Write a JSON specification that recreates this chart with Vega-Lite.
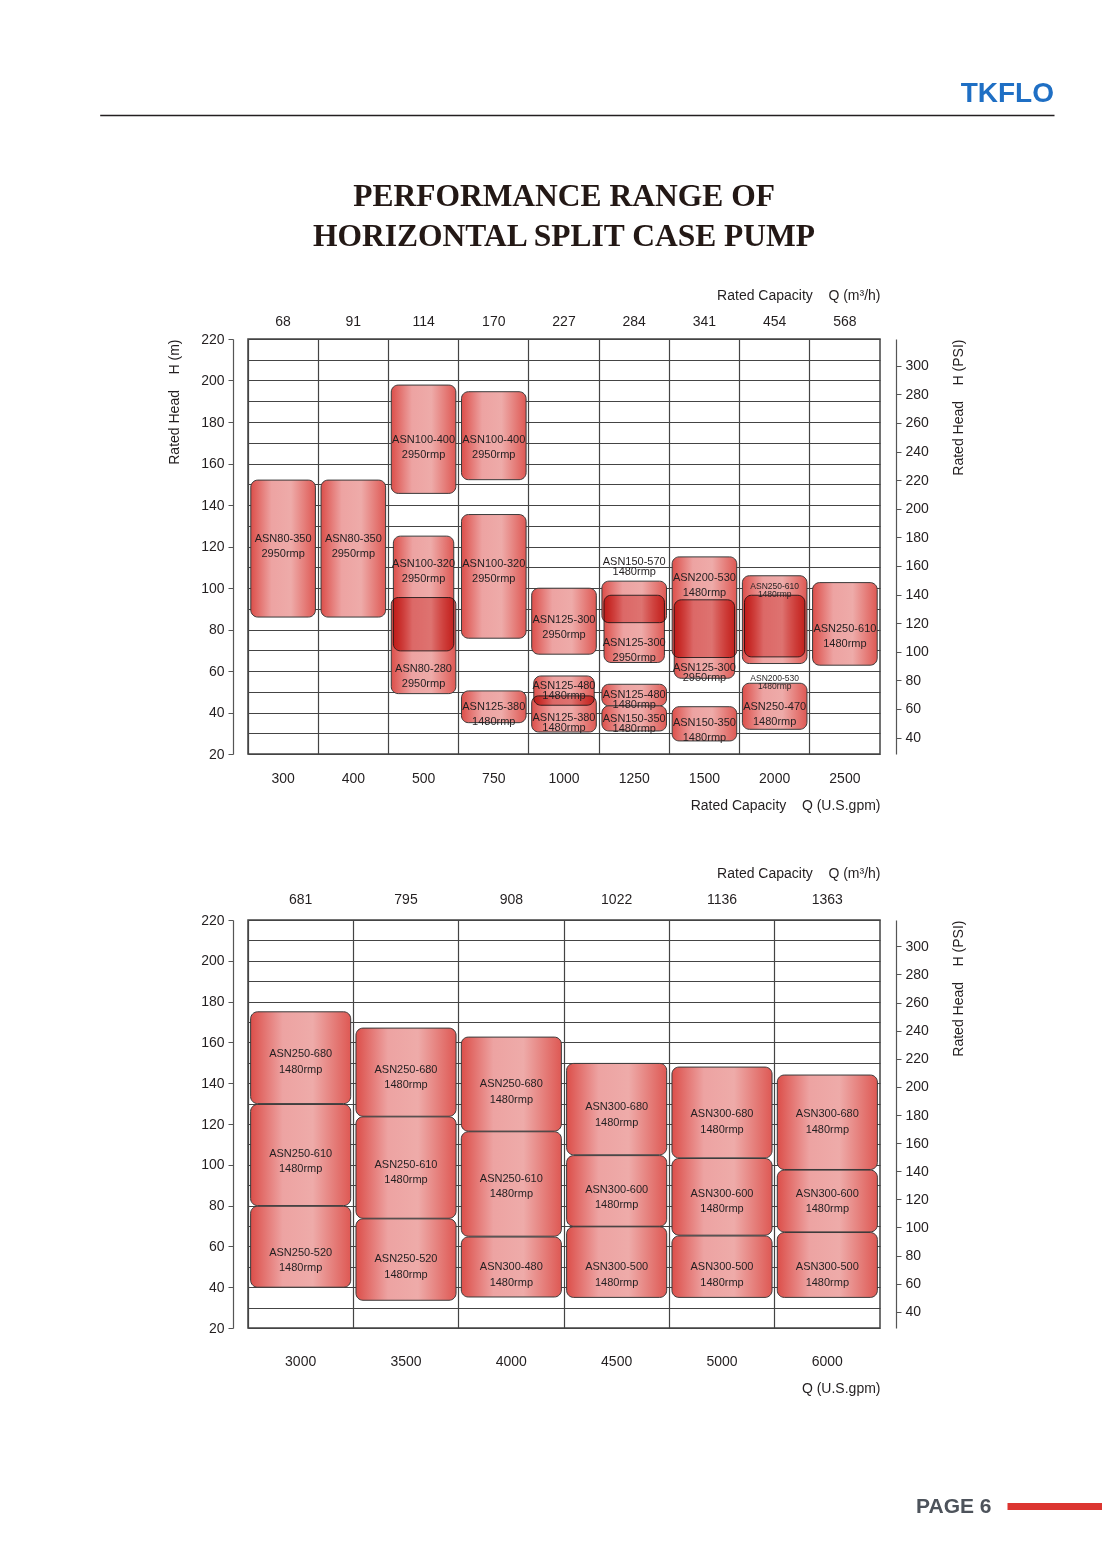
{
  "$schema": "https://vega.github.io/schema/vega-lite/v6.json",
  "background": "white",
  "padding": {"left": 166, "top": 80, "right": 0, "bottom": 0},
  "config": {
    "font": "Liberation Sans",
    "axis": {"labelFont": "Liberation Sans", "titleFont": "Liberation Sans"},
    "text": {"font": "Liberation Sans"}
  },
  "datasets": {
    "top": [
      {"gpm": 300, "model": "ASN80-350", "speed": "2950rmp", "lo": 86, "hi": 152, "ly": 123.7},
      {"gpm": 400, "model": "ASN80-350", "speed": "2950rmp", "lo": 86, "hi": 152, "ly": 123.7},
      {"gpm": 500, "model": "ASN100-400", "speed": "2950rmp", "lo": 145.6, "hi": 197.8, "ly": 171.2},
      {"gpm": 500, "model": "ASN100-320", "speed": "2950rmp", "lo": 69.7, "hi": 125, "ly": 111.7},
      {"gpm": 500, "model": "ASN80-280", "speed": "2950rmp", "lo": 49.1, "hi": 95.4, "ly": 61},
      {"gpm": 750, "model": "ASN100-400", "speed": "2950rmp", "lo": 152.2, "hi": 194.6, "ly": 171.2},
      {"gpm": 750, "model": "ASN100-320", "speed": "2950rmp", "lo": 75.8, "hi": 135.4, "ly": 111.7},
      {"gpm": 750, "model": "ASN125-380", "speed": "1480rmp", "lo": 35.1, "hi": 50.4, "ly": 42.5},
      {"gpm": 1000, "model": "ASN125-300", "speed": "2950rmp", "lo": 68.1, "hi": 99.9, "ly": 84.8},
      {"gpm": 1000, "model": "ASN125-480", "speed": "1480rmp", "lo": 43.5, "hi": 57.6, "ly": 52.8},
      {"gpm": 1000, "model": "ASN125-380", "speed": "1480rmp", "lo": 30.6, "hi": 48, "ly": 37.4},
      {"gpm": 1250, "model": "ASN150-570", "speed": "1480rmp", "lo": 83.3, "hi": 103.3, "ly": 112.5},
      {"gpm": 1250, "model": "ASN125-300", "speed": "2950rmp", "lo": 64.1, "hi": 96.5, "ly": 73.7},
      {"gpm": 1250, "model": "ASN125-480", "speed": "1480rmp", "lo": 43.2, "hi": 53.6, "ly": 48.6},
      {"gpm": 1250, "model": "ASN150-350", "speed": "1480rmp", "lo": 31.1, "hi": 43.2, "ly": 37.1},
      {"gpm": 1500, "model": "ASN200-530", "speed": "1480rmp", "lo": 66.5, "hi": 115, "ly": 104.7},
      {"gpm": 1500, "model": "ASN125-300", "speed": "2950rmp", "lo": 56.5, "hi": 94.3, "ly": 61.6},
      {"gpm": 1500, "model": "ASN150-350", "speed": "1480rmp", "lo": 26.3, "hi": 42.8, "ly": 34.8},
      {"gpm": 2000, "model": "ASN250-610", "speed": "1480rmp", "lo": 63.6, "hi": 105.9, "ly": 101.1},
      {"gpm": 2000, "model": "ASN200-530", "speed": "1480rmp", "lo": 66.8, "hi": 96.5, "ly": 56.4},
      {"gpm": 2000, "model": "ASN250-470", "speed": "1480rmp", "lo": 31.9, "hi": 54.1, "ly": 42.7},
      {"gpm": 2500, "model": "ASN250-610", "speed": "1480rmp", "lo": 62.8, "hi": 102.6, "ly": 80.2}
    ],
    "bottom": [
      {"gpm": 3000, "model": "ASN250-680", "speed": "1480rmp", "lo": 130, "hi": 175, "ly": 154.1},
      {"gpm": 3000, "model": "ASN250-610", "speed": "1480rmp", "lo": 80, "hi": 129.6, "ly": 105.3},
      {"gpm": 3000, "model": "ASN250-520", "speed": "1480rmp", "lo": 40, "hi": 79.7, "ly": 56.9},
      {"gpm": 3500, "model": "ASN250-680", "speed": "1480rmp", "lo": 123.8, "hi": 167, "ly": 146.5},
      {"gpm": 3500, "model": "ASN250-610", "speed": "1480rmp", "lo": 73.8, "hi": 123.5, "ly": 100.1},
      {"gpm": 3500, "model": "ASN250-520", "speed": "1480rmp", "lo": 33.6, "hi": 73.5, "ly": 53.6},
      {"gpm": 4000, "model": "ASN250-680", "speed": "1480rmp", "lo": 116.5, "hi": 162.6, "ly": 139.5},
      {"gpm": 4000, "model": "ASN250-610", "speed": "1480rmp", "lo": 65, "hi": 116.2, "ly": 93.1},
      {"gpm": 4000, "model": "ASN300-480", "speed": "1480rmp", "lo": 35.2, "hi": 64.6, "ly": 49.8},
      {"gpm": 4500, "model": "ASN300-680", "speed": "1480rmp", "lo": 104.9, "hi": 149.7, "ly": 128.1},
      {"gpm": 4500, "model": "ASN300-600", "speed": "1480rmp", "lo": 69.9, "hi": 104.5, "ly": 87.7},
      {"gpm": 4500, "model": "ASN300-500", "speed": "1480rmp", "lo": 35, "hi": 69.6, "ly": 49.8},
      {"gpm": 5000, "model": "ASN300-680", "speed": "1480rmp", "lo": 103.4, "hi": 147.9, "ly": 124.9},
      {"gpm": 5000, "model": "ASN300-600", "speed": "1480rmp", "lo": 65.5, "hi": 103.1, "ly": 85.9},
      {"gpm": 5000, "model": "ASN300-500", "speed": "1480rmp", "lo": 35, "hi": 65.1, "ly": 49.8},
      {"gpm": 6000, "model": "ASN300-680", "speed": "1480rmp", "lo": 97.7, "hi": 144, "ly": 124.9},
      {"gpm": 6000, "model": "ASN300-600", "speed": "1480rmp", "lo": 67.1, "hi": 97.4, "ly": 85.9},
      {"gpm": 6000, "model": "ASN300-500", "speed": "1480rmp", "lo": 35, "hi": 66.8, "ly": 49.8}
    ]
  },
  "spacing": 64,
  "vconcat": [
    {
      "width": 806,
      "height": 1,
      "view": {"stroke": null},
      "data": {"values": [{}]},
      "title": {"text": "TKFLO", "anchor": "end", "frame": "group", "font": "Liberation Sans", "fontSize": 28, "fontWeight": "bold", "color": "#1f6fc4", "offset": 6},
      "mark": {"type": "rule", "opacity": 0},
      "encoding": {
        "x": {"datum": 0.5, "type": "quantitative", "scale": {"domain": [0, 1], "range": [-148.3, 806]},
          "axis": {"orient": "bottom", "domain": true, "domainColor": "#231f20", "domainWidth": 1.3, "labels": false, "ticks": false, "grid": false, "title": null}}
      }
    },
    {
      "spacing": 99,
      "vconcat": [
        {
          "spacing": 52,
          "vconcat": [
            {
              "width": 632,
              "height": 415,
              "view": {"stroke": "#444444", "strokeWidth": 1.5},
              "title": {"text": ["PERFORMANCE RANGE OF", "HORIZONTAL SPLIT CASE PUMP"], "font": "Liberation Serif", "fontSize": 31.5, "fontWeight": "bold", "color": "#231815", "anchor": "middle", "frame": "group", "lineHeight": 40, "offset": 36},
              "data": {"name": "top"},
              "transform": [
                {"calculate": "datum.model + '\\n' + datum.speed", "as": "label"},
                {"calculate": "datum.gpm + '|' + datum.model", "as": "key"}
              ],
              "layer": [
                {
                  "transform": [{"filter": "indexof(['500|ASN100-320','1000|ASN125-480','1250|ASN125-300','1500|ASN125-300','2000|ASN200-530'], datum.key) >= 0"}],
                  "mark": {"type": "bar", "fill": "white", "cornerRadius": 7, "width": {"band": 0.86}},
                  "encoding": {
                    "x": {"field": "gpm", "type": "ordinal", "scale": {"paddingInner": 0, "paddingOuter": 0},
                      "axis": {"orient": "bottom", "zindex": 0, "domain": false, "ticks": false, "labelAngle": 0, "labelFontSize": 14, "labelColor": "#231f20", "labelPadding": 17, "grid": true, "bandPosition": 0, "gridColor": "#444444", "gridWidth": 1.2, "title": "Rated Capacity\u00a0\u00a0\u00a0 Q (U.S.gpm)", "titleAnchor": "end", "titleFontSize": 14, "titleFontWeight": "normal", "titleColor": "#231f20", "titlePadding": 13}},
                    "y": {"field": "lo", "type": "quantitative", "scale": {"domain": [20, 220], "nice": false, "zero": false},
                      "axis": {"orient": "left", "zindex": 0, "offset": 15, "values": [20, 30, 40, 50, 60, 70, 80, 90, 100, 110, 120, 130, 140, 150, 160, 170, 180, 190, 200, 210, 220], "labelExpr": "datum.value % 20 === 0 ? datum.label : ''", "tickOpacity": {"condition": {"test": "datum.value % 20 === 0", "value": 1}, "value": 0}, "tickSize": 5, "tickColor": "#555555", "domainColor": "#555555", "domainWidth": 1.2, "labelFontSize": 14, "labelColor": "#231f20", "labelPadding": 4, "grid": true, "gridColor": "#444444", "gridWidth": 1.2, "title": "Rated Head\u00a0\u00a0\u00a0 H (m)", "titleAnchor": "end", "titleFontSize": 14, "titleFontWeight": "normal", "titleColor": "#231f20", "titlePadding": 19}},
                    "y2": {"field": "hi"}
                  }
                },
                {
                  "transform": [{"filter": "indexof(['500|ASN100-320','1000|ASN125-480','1250|ASN125-300','1500|ASN125-300','2000|ASN200-530'], datum.key) < 0"}],
                  "mark": {"type": "bar", "cornerRadius": 7, "width": {"band": 0.92}, "stroke": "#3a3a3a", "strokeWidth": 1,
                    "fill": {"gradient": "linear", "x1": 0, "y1": 0, "x2": 1, "y2": 0, "stops": [{"offset": 0, "color": "#dc4f4a"}, {"offset": 0.32, "color": "#eda3a2"}, {"offset": 0.62, "color": "#eeaba9"}, {"offset": 1, "color": "#de5954"}]}},
                  "encoding": {
                    "x": {"field": "gpm", "type": "ordinal", "scale": {"paddingInner": 0, "paddingOuter": 0},
                      "axis": {"orient": "top", "domain": false, "ticks": false, "grid": false, "labelAngle": 0, "labelExpr": "['68','91','114','170','227','284','341','454','568'][indexof(['300','400','500','750','1000','1250','1500','2000','2500'], datum.label)]", "labelFontSize": 14, "labelColor": "#231f20", "labelPadding": 11, "title": "Rated Capacity\u00a0\u00a0\u00a0 Q (m³/h)", "titleAnchor": "end", "titleFontSize": 14, "titleFontWeight": "normal", "titleColor": "#231f20", "titlePadding": 12}},
                    "y": {"field": "lo", "type": "quantitative", "scale": {"domain": [20, 220], "nice": false, "zero": false},
                      "axis": {"orient": "right", "offset": 16, "values": [27.91, 41.7, 55.48, 69.27, 83.05, 96.84, 110.62, 124.41, 138.19, 151.98, 165.76, 179.55, 193.33, 207.12], "labelExpr": "format(round((datum.value - 27.91) / 0.68927 + 40), 'd')", "tickSize": 5, "tickColor": "#555555", "domainColor": "#555555", "domainWidth": 1.2, "labelFontSize": 14, "labelColor": "#231f20", "labelPadding": 4, "grid": false, "title": "Rated Head\u00a0\u00a0\u00a0 H (PSI)", "titleAngle": 270, "titleAnchor": "end", "titleBaseline": "top", "titleFontSize": 14, "titleFontWeight": "normal", "titleColor": "#231f20", "titlePadding": 23}},
                    "y2": {"field": "hi"}
                  }
                },
                {
                  "transform": [{"filter": "indexof(['500|ASN100-320','1000|ASN125-480','1250|ASN125-300','1500|ASN125-300','2000|ASN200-530'], datum.key) >= 0"}],
                  "mark": {"type": "bar", "cornerRadius": 7, "width": {"band": 0.86}, "stroke": "#3a3a3a", "strokeWidth": 1, "blend": "multiply",
                    "fill": {"gradient": "linear", "x1": 0, "y1": 0, "x2": 1, "y2": 0, "stops": [{"offset": 0, "color": "#dc4f4a"}, {"offset": 0.32, "color": "#eda3a2"}, {"offset": 0.62, "color": "#eeaba9"}, {"offset": 1, "color": "#de5954"}]}},
                  "encoding": {
                    "x": {"field": "gpm", "type": "ordinal", "scale": {"paddingInner": 0, "paddingOuter": 0}, "axis": null},
                    "y": {"field": "lo", "type": "quantitative", "scale": {"domain": [20, 220], "nice": false, "zero": false}, "axis": null},
                    "y2": {"field": "hi"}
                  }
                },
                {
                  "transform": [{"filter": "indexof(['1000|ASN125-480','1000|ASN125-380','1250|ASN150-570','1250|ASN125-480','1250|ASN150-350','1500|ASN125-300','2000|ASN250-610','2000|ASN200-530'], datum.key) < 0"}],
                  "mark": {"type": "text", "fontSize": 11, "lineHeight": 15, "lineBreak": "\n", "color": "#231f20", "baseline": "middle"},
                  "encoding": {
                    "x": {"field": "gpm", "type": "ordinal", "axis": null},
                    "y": {"field": "ly", "type": "quantitative", "axis": null},
                    "text": {"field": "label"}
                  }
                },
                {
                  "transform": [{"filter": "indexof(['1000|ASN125-480','1000|ASN125-380','1250|ASN150-570','1250|ASN125-480','1250|ASN150-350','1500|ASN125-300'], datum.key) >= 0"}],
                  "mark": {"type": "text", "fontSize": 11, "lineHeight": 10, "lineBreak": "\n", "color": "#231f20", "baseline": "middle"},
                  "encoding": {
                    "x": {"field": "gpm", "type": "ordinal", "axis": null},
                    "y": {"field": "ly", "type": "quantitative", "axis": null},
                    "text": {"field": "label"}
                  }
                },
                {
                  "transform": [{"filter": "indexof(['2000|ASN250-610','2000|ASN200-530'], datum.key) >= 0"}],
                  "mark": {"type": "text", "fontSize": 8.5, "lineHeight": 8, "lineBreak": "\n", "color": "#231f20", "baseline": "middle"},
                  "encoding": {
                    "x": {"field": "gpm", "type": "ordinal", "axis": null},
                    "y": {"field": "ly", "type": "quantitative", "axis": null},
                    "text": {"field": "label"}
                  }
                }
              ]
            },
            {
              "width": 632,
              "height": 408,
              "view": {"stroke": "#444444", "strokeWidth": 1.5},
              "data": {"name": "bottom"},
              "transform": [
                {"calculate": "datum.model + '\\n' + datum.speed", "as": "label"}
              ],
              "layer": [
                {
                  "mark": {"type": "bar", "cornerRadius": 7, "width": {"band": 0.95}, "stroke": "#3a3a3a", "strokeWidth": 1,
                    "fill": {"gradient": "linear", "x1": 0, "y1": 0, "x2": 1, "y2": 0, "stops": [{"offset": 0, "color": "#dc4f4a"}, {"offset": 0.32, "color": "#eda3a2"}, {"offset": 0.62, "color": "#eeaba9"}, {"offset": 1, "color": "#de5954"}]}},
                  "encoding": {
                    "x": {"field": "gpm", "type": "ordinal", "scale": {"paddingInner": 0, "paddingOuter": 0},
                      "axis": {"orient": "bottom", "zindex": 0, "domain": false, "ticks": false, "labelAngle": 0, "labelFontSize": 14, "labelColor": "#231f20", "labelPadding": 26, "grid": true, "bandPosition": 0, "gridColor": "#444444", "gridWidth": 1.2, "title": "Q (U.S.gpm)", "titleAnchor": "end", "titleFontSize": 14, "titleFontWeight": "normal", "titleColor": "#231f20", "titlePadding": 13}},
                    "y": {"field": "lo", "type": "quantitative", "scale": {"domain": [20, 220], "nice": false, "zero": false},
                      "axis": {"orient": "left", "zindex": 0, "offset": 15, "values": [20, 30, 40, 50, 60, 70, 80, 90, 100, 110, 120, 130, 140, 150, 160, 170, 180, 190, 200, 210, 220], "labelExpr": "datum.value % 20 === 0 ? datum.label : ''", "tickOpacity": {"condition": {"test": "datum.value % 20 === 0", "value": 1}, "value": 0}, "tickSize": 5, "tickColor": "#555555", "domainColor": "#555555", "domainWidth": 1.2, "labelFontSize": 14, "labelColor": "#231f20", "labelPadding": 4, "grid": true, "gridColor": "#444444", "gridWidth": 1.2, "title": null}},
                    "y2": {"field": "hi"}
                  }
                },
                {
                  "mark": {"type": "text", "fontSize": 11, "lineHeight": 15.5, "lineBreak": "\n", "color": "#231f20", "baseline": "middle"},
                  "encoding": {
                    "x": {"field": "gpm", "type": "ordinal", "scale": {"paddingInner": 0, "paddingOuter": 0},
                      "axis": {"orient": "top", "domain": false, "ticks": false, "grid": false, "labelAngle": 0, "labelExpr": "['681','795','908','1022','1136','1363'][indexof(['3000','3500','4000','4500','5000','6000'], datum.label)]", "labelFontSize": 14, "labelColor": "#231f20", "labelPadding": 14, "title": "Rated Capacity\u00a0\u00a0\u00a0 Q (m³/h)", "titleAnchor": "end", "titleFontSize": 14, "titleFontWeight": "normal", "titleColor": "#231f20", "titlePadding": 11.5}},
                    "y": {"field": "ly", "type": "quantitative", "scale": {"domain": [20, 220], "nice": false, "zero": false},
                      "axis": {"orient": "right", "offset": 16, "values": [27.91, 41.7, 55.48, 69.27, 83.05, 96.84, 110.62, 124.41, 138.19, 151.98, 165.76, 179.55, 193.33, 207.12], "labelExpr": "format(round((datum.value - 27.91) / 0.68927 + 40), 'd')", "tickSize": 5, "tickColor": "#555555", "domainColor": "#555555", "domainWidth": 1.2, "labelFontSize": 14, "labelColor": "#231f20", "labelPadding": 4, "grid": false, "title": "Rated Head\u00a0\u00a0\u00a0 H (PSI)", "titleAngle": 270, "titleAnchor": "end", "titleBaseline": "top", "titleFontSize": 14, "titleFontWeight": "normal", "titleColor": "#231f20", "titlePadding": 23}},
                    "text": {"field": "label"}
                  }
                }
              ]
            }
          ]
        },
        {
          "width": 855,
          "height": 1,
          "view": {"stroke": null},
          "data": {"values": [{}]},
          "mark": {"type": "rule", "opacity": 0},
          "encoding": {
            "x": {"datum": 0.5, "type": "quantitative", "scale": {"domain": [0, 1], "range": [759, 855]},
              "axis": {"orient": "bottom", "domain": true, "domainColor": "#dc3530", "domainWidth": 7, "labels": false, "ticks": false, "grid": false, "title": "PAGE 6", "titleX": 743, "titleY": 0, "titleAlign": "right", "titleBaseline": "middle", "titleFont": "Liberation Sans", "titleFontSize": 21, "titleFontWeight": "bold", "titleColor": "#4d535b"}}
          }
        }
      ]
    }
  ]
}
